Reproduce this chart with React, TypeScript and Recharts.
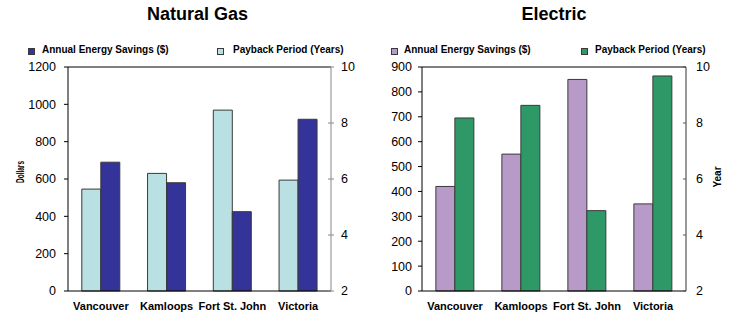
import React from 'react';
import { BarChart, Bar, XAxis, YAxis, ReferenceLine, Label } from 'recharts';

const categories = ['Vancouver', 'Kamloops', 'Fort St. John', 'Victoria'];
const gasSavings = [690, 580, 425, 920];
const gasPayback = [5.64, 6.2, 8.46, 5.96];
const elecSavings = [420, 550, 850, 350];
const elecPayback = [8.18, 8.63, 4.87, 9.68];
const gasDollarTicks = [0, 200, 400, 600, 800, 1000, 1200];
const elecDollarTicks = [0, 100, 200, 300, 400, 500, 600, 700, 800, 900];
const yearTicks = [2, 4, 6, 8, 10];

const gasData = categories.map((c, i) => ({ name: c, savings: gasSavings[i], payback: gasPayback[i] }));
const elecData = categories.map((c, i) => ({ name: c, savings: elecSavings[i], payback: elecPayback[i] }));

const FONT = "Arial, 'Liberation Sans', sans-serif";
const C_LIGHTBLUE = '#B9E0E3';
const C_NAVY = '#333399';
const C_PURPLE = '#B89AC8';
const C_GREEN = '#2E9966';
const C_STROKE = '#3a3a3a';

const TS = 4;
const TM = 6;

const makeRightTick = (cross: boolean, color: string) => (props: any) => {
  const { x, y, payload } = props;
  const ax = x - TS - TM;
  return (
    <g>
      <line x1={ax - 3} x2={cross ? ax + 3 : ax} y1={y} y2={y} stroke={color} strokeWidth={1} />
      <text x={x} y={y} dy="0.355em" textAnchor="start" fontSize={12.5} fontFamily={FONT} fill="#000">
        {payload.value}
      </text>
    </g>
  );
};

const DollarsLabel = (props: any) => {
  const vb = props.viewBox || { x: 0, y: 67, width: 68, height: 224 };
  const cx = vb.x + 20;
  const cy = vb.y + vb.height / 2 - 7;
  return (
    <text
      x={cx}
      y={cy}
      transform={`rotate(-90 ${cx} ${cy})`}
      textAnchor="middle"
      dominantBaseline="central"
      fontSize={10}
      fontWeight="bold"
      fontFamily={FONT}
      fill="#000"
      textLength={22}
      lengthAdjust="spacingAndGlyphs"
    >
      Dollars
    </text>
  );
};

const YearLabel = (props: any) => {
  const vb = props.viewBox || { x: 686, y: 67, width: 45, height: 224 };
  const cx = vb.x + 31;
  const cy = vb.y + vb.height / 2 - 2;
  return (
    <text
      x={cx}
      y={cy}
      transform={`rotate(-90 ${cx} ${cy})`}
      textAnchor="middle"
      dominantBaseline="central"
      fontSize={10}
      fontWeight="bold"
      fontFamily={FONT}
      fill="#000"
    >
      Year
    </text>
  );
};

const tickStyle = { fontSize: 12.5, fontFamily: FONT, fill: '#000' };
const catTickStyle = { fontSize: 11, fontWeight: 'bold' as const, fontFamily: FONT, fill: '#000' };

const LegendItem = ({ left, textLeft, color, text }: { left: number; textLeft: number; color: string; text: string }) => (
  <>
    <div
      style={{
        position: 'absolute',
        left,
        top: 48,
        width: 7,
        height: 7,
        boxSizing: 'border-box',
        border: `1px solid ${C_STROKE}`,
        background: color,
      }}
    />
    <div
      style={{
        position: 'absolute',
        left: textLeft,
        top: 45,
        fontSize: 10,
        lineHeight: '10px',
        fontWeight: 'bold',
        fontFamily: FONT,
        color: '#000',
        whiteSpace: 'nowrap',
      }}
    >
      {text}
    </div>
  </>
);

const Title = ({ center, text }: { center: number; text: string }) => (
  <div
    style={{
      position: 'absolute',
      left: center - 100,
      width: 200,
      top: 5,
      textAlign: 'center',
      fontSize: 18,
      lineHeight: '18px',
      fontWeight: 'bold',
      fontFamily: FONT,
      color: '#000',
    }}
  >
    {text}
  </div>
);

export default function App() {
  return (
    <div style={{ position: 'absolute', left: 0, top: 0, width: 731, height: 314, background: '#fff', overflow: 'hidden' }}>
      <div style={{ position: 'absolute', left: 0, top: 0 }}>
        <BarChart
          width={365}
          height={314}
          data={gasData}
          margin={{ top: 67, right: 0, bottom: 0, left: 0 }}
          barCategoryGap="21%"
          barGap={0}
        >
          <XAxis
            dataKey="name"
            xAxisId={0}
            height={23}
            axisLine={{ stroke: '#000' }}
            tickLine={false}
            tickSize={6}
            tickMargin={5}
            tick={catTickStyle}
            interval={0}
          />
          <YAxis
            yAxisId="left"
            orientation="left"
            width={68}
            domain={[0, 1200]}
            ticks={gasDollarTicks}
            interval={0}
            axisLine={{ stroke: '#000' }}
            tickLine={{ stroke: '#000' }}
            tickSize={TS}
            tickMargin={8}
            tick={tickStyle}
          >
            <Label content={DollarsLabel} />
          </YAxis>
          <YAxis
            yAxisId="right"
            orientation="right"
            width={34}
            domain={[2, 10]}
            ticks={yearTicks}
            interval={0}
            axisLine={{ stroke: '#888' }}
            tickLine={false}
            tickSize={TS}
            tickMargin={TM}
            tick={makeRightTick(true, '#888')}
          />
          <ReferenceLine yAxisId="left" y={1200} stroke="#000" strokeWidth={1} ifOverflow="visible" />
          <Bar yAxisId="right" dataKey="payback" name="Payback Period (Years)" fill={C_LIGHTBLUE} stroke={C_STROKE} strokeWidth={1} isAnimationActive={false} />
          <Bar yAxisId="left" dataKey="savings" name="Annual Energy Savings ($)" fill={C_NAVY} stroke={C_STROKE} strokeWidth={1} isAnimationActive={false} />
        </BarChart>
      </div>
      <div style={{ position: 'absolute', left: 365, top: 0 }}>
        <BarChart
          width={366}
          height={314}
          data={elecData}
          margin={{ top: 67, right: 0, bottom: 0, left: 0 }}
          barCategoryGap="21%"
          barGap={0}
        >
          <XAxis
            dataKey="name"
            height={23}
            axisLine={{ stroke: '#000' }}
            tickLine={false}
            tickSize={6}
            tickMargin={5}
            tick={catTickStyle}
            interval={0}
          />
          <YAxis
            yAxisId="left"
            orientation="left"
            width={57}
            domain={[0, 900]}
            ticks={elecDollarTicks}
            interval={0}
            axisLine={{ stroke: '#000' }}
            tickLine={{ stroke: '#000' }}
            tickSize={TS}
            tickMargin={6}
            tick={tickStyle}
          />
          <YAxis
            yAxisId="right"
            orientation="right"
            width={45}
            domain={[2, 10]}
            ticks={yearTicks}
            interval={0}
            axisLine={{ stroke: '#333' }}
            tickLine={false}
            tickSize={TS}
            tickMargin={TM}
            tick={makeRightTick(false, '#555')}
          >
            <Label content={YearLabel} />
          </YAxis>
          <ReferenceLine yAxisId="left" y={900} stroke="#000" strokeWidth={1} ifOverflow="visible" />
          <Bar yAxisId="left" dataKey="savings" name="Annual Energy Savings ($)" fill={C_PURPLE} stroke={C_STROKE} strokeWidth={1} isAnimationActive={false} />
          <Bar yAxisId="right" dataKey="payback" name="Payback Period (Years)" fill={C_GREEN} stroke={C_STROKE} strokeWidth={1} isAnimationActive={false} />
        </BarChart>
      </div>
      <Title center={197.5} text="Natural Gas" />
      <Title center={554} text="Electric" />
      <LegendItem left={28} textLeft={42} color={C_NAVY} text="Annual Energy Savings ($)" />
      <LegendItem left={217} textLeft={233} color={C_LIGHTBLUE} text="Payback Period (Years)" />
      <LegendItem left={391} textLeft={404} color={C_PURPLE} text="Annual Energy Savings ($)" />
      <LegendItem left={581} textLeft={595} color={C_GREEN} text="Payback Period (Years)" />
    </div>
  );
}
